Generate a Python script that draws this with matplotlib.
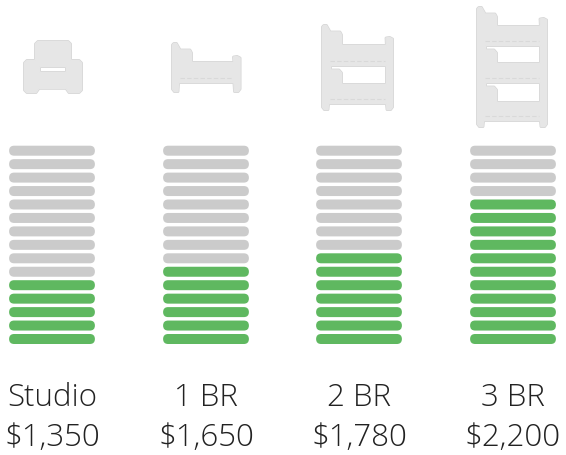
#!/usr/bin/env python3
"""Rent by unit size: stacked pill bars with a bed icon above each column."""
import matplotlib
matplotlib.use("Agg")
import matplotlib.pyplot as plt
from matplotlib.patches import FancyBboxPatch, PathPatch
from matplotlib.path import Path

units = ["Studio", "1 BR", "2 BR", "3 BR"]
rents = ["$1,350", "$1,650", "$1,780", "$2,200"]
filled = [5, 6, 7, 11]
total_rows = 15

GREEN, GRAY, ICON, ICON_EDGE, INK = "#5fb860", "#cbcbcb", "#e6e6e6", "#d6d6d6", "#222222"
COL_X = [9, 163, 316, 470]
BAR_W, BAR_H = 86, 10.0
TOP_ROW, ROW_STEP = 151.7, 13.45
EDGE = 1.4  # half the icon stroke, in pixels

plt.rcParams["font.family"] = ["Open Sans", "DejaVu Sans"]


def shape(outer, holes=()):
    verts, codes = [], []
    for poly in [outer] + [h[::-1] for h in holes]:
        verts += poly + [poly[0]]
        codes += [Path.MOVETO] + [Path.LINETO] * (len(poly) - 1) + [Path.CLOSEPOLY]
    return Path(verts, codes)


def draw_icon(ax, path):
    # soft edge first, then the lighter body over it
    ax.add_patch(PathPatch(path, fc=ICON_EDGE, ec=ICON_EDGE, lw=2.0, joinstyle="round"))
    ax.add_patch(PathPatch(path, fc=ICON, ec=ICON, lw=1.0, joinstyle="round"))


def armchair():
    outer = [(38, 42.4), (68, 42.4), (70.6, 45), (70.6, 61.4), (79, 61.4), (81.6, 64), (81.6, 91), (79, 93.6),
             (69, 93.6), (66, 89.4), (39, 89.4), (36, 93.6), (27, 93.6), (24.4, 91), (24.4, 64), (27, 61.4),
             (35.4, 61.4), (35.4, 45)]
    slit = [(39.6, 67.6), (66.4, 67.6), (66.4, 73.4), (39.6, 73.4)]
    return shape(outer, [slit])


def bed(x, r, top, foot_top, mattress, bays, bottom, leg):
    """Bed or bunk: two posts, open top, bays = (top, bottom) of the enclosed gaps."""
    e = EDGE
    left, right = x + e, r - e
    post_in = x + 9
    pillow = post_in + 13
    outer = [(left + 1.5, top + e), (left + 4, top + e), (post_in - 1, top + 6), (post_in, top + 8), (pillow - 3, top + 8),
             (pillow - e, top + 11), (pillow - e, mattress + e), (r - 9 + e, mattress + e), (r - 8, foot_top + 2),
             (right - 3, foot_top + e), (right, foot_top + 3), (right, leg - 4), (right - 2, leg - e), (r - 7, leg - e),
             (r - 9 + e, bottom - e), (post_in - e, bottom - e), (x + 7, leg - e), (left + 2, leg - e), (left, leg - 4),
             (left, top + 3)]
    holes = []
    for g0, g1 in bays:
        holes.append([(post_in + 2 - e, g0 - e), (r - 9 + e, g0 - e), (r - 9 + e, g1 + e), (pillow - e, g1 + e),
                      (pillow - e, g0 + 6), (pillow - 4, g0 + 3), (post_in + 2 - e, g0 + 3)])
    return shape(outer, holes)


def seams(ax, x, r, ys):
    for y in ys:
        ax.plot([x + 9, r - 9], [y, y], color="#d9d9d9", lw=0.8, ls=(0, (4, 2)))


fig = plt.figure(figsize=(5.66, 4.56), dpi=100)
ax = fig.add_axes([0, 0, 1, 1])
ax.set_xlim(0, 566)
ax.set_ylim(456, 0)
ax.axis("off")

draw_icon(ax, armchair())
draw_icon(ax, bed(171, 241.5, 43, 56, 62, [], 85, 94))
seams(ax, 171, 241.5, [79])
draw_icon(ax, bed(321, 394, 25, 37, 45, [(68, 84)], 106, 112))
seams(ax, 321, 394, [62, 100])
draw_icon(ax, bed(476, 548, 7, 18, 26, [(48, 63), (85, 102)], 123, 129))
seams(ax, 476, 548, [42, 79, 117])

for x, unit, rent, n in zip(COL_X, units, rents, filled):
    for row in range(total_rows):
        y = TOP_ROW + row * ROW_STEP
        color = GREEN if row >= total_rows - n else GRAY
        ax.add_patch(FancyBboxPatch((x + BAR_H / 2, y - 0.1), BAR_W - BAR_H, 0.2,
                                    boxstyle=f"round,pad={BAR_H / 2 - 0.1},rounding_size={BAR_H / 2}",
                                    fc=color, ec="none"))
    cx = x + BAR_W / 2
    ax.text(cx, 406, unit, ha="center", va="baseline", fontsize=22.5, fontweight=300, color=INK)
    ax.text(cx, 446, rent, ha="center", va="baseline", fontsize=22.5, fontweight=300, color=INK)

fig.savefig("out.png", dpi=100)
